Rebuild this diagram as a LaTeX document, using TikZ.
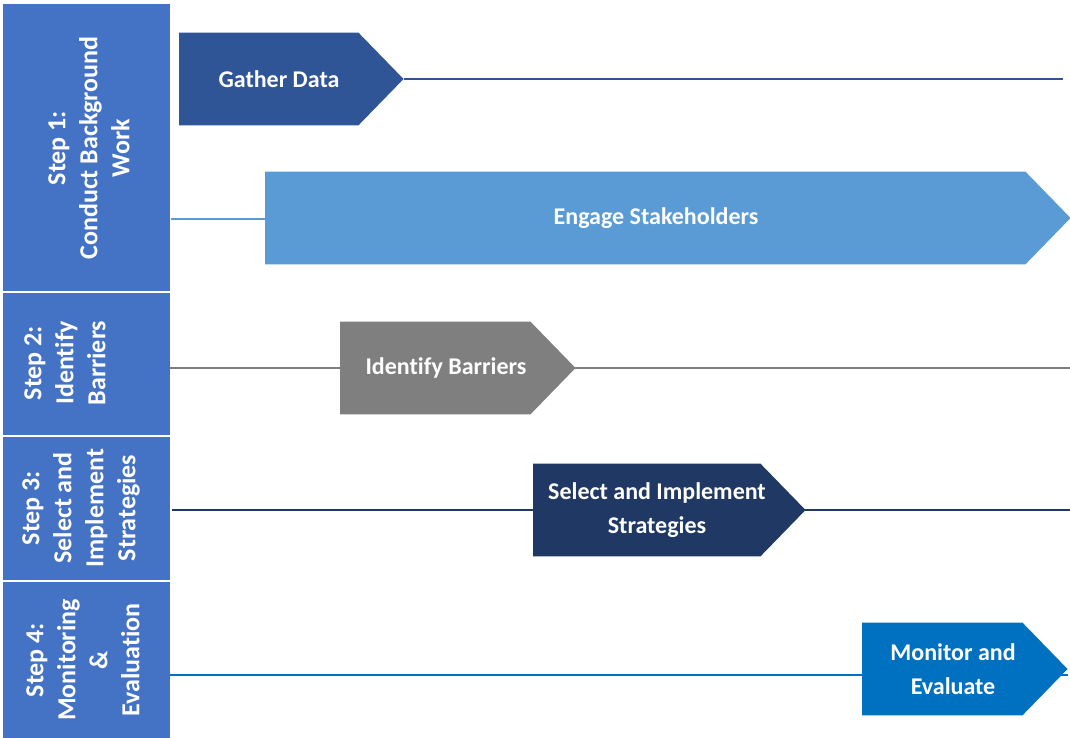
\documentclass[tikz,border=0pt]{standalone}
\usepackage{fontspec}
\setmainfont{Carlito}[Ligatures=CommonOff]
\usepackage{tikz}
\usetikzlibrary{calc,positioning,backgrounds}
\definecolor{panelblue}{HTML}{4472C4}
\definecolor{gatherblue}{HTML}{2F5597}
\definecolor{engageblue}{HTML}{5B9BD5}
\definecolor{barriergray}{HTML}{7F7F7F}
\definecolor{selectnavy}{HTML}{203864}
\definecolor{monitorblue}{HTML}{0070C0}

\begin{document}
\begin{tikzpicture}[x=0.75pt,y=-0.75pt,
		panel/.style={fill=panelblue,minimum width=167*0.75pt,inner sep=0pt,anchor=north west},
		paneltext/.style={rotate=90,text=white,font=\fontsize{19.5}{24}\selectfont\bfseries,align=center},
		bar/.style={inner sep=0pt,minimum height=92*0.75pt,anchor=west},
		bartext/.style={text=white,font=\fontsize{18}{25}\selectfont\bfseries,align=center},
		track/.style={line width=2pt}]
		\useasboundingbox (0,0) rectangle (1070,738);
		% step panels on the left
		\node(p1) [panel,minimum height=287*0.75pt] at (3,4) {};
		\node(p2) [panel,minimum height=142*0.75pt] at (3,293) {};
		\node(p3) [panel,minimum height=143*0.75pt] at (3,437) {};
		\node(p4) [panel,minimum height=156*0.75pt] at (3,582) {};
		\node(p1txt) [paneltext] at (89,148) {Step 1:\\Conduct Background\\Work};
		\node(p2txt) [paneltext] at (65,363) {Step 2:\\Identify\\Barriers};
		\node(p3txt) [paneltext] at (81,508) {Step 3:\\Select and\\Implement\\Strategies};
		\node(p4txt) [paneltext] at (83,660) {Step 4:\\Monitoring\\\&\\Evaluation};

		% activity bars (pentagons)
		\node(gather) [bar,minimum width=179*0.75pt] at (179,79) {};
		\node(engage) [bar,minimum width=760*0.75pt] at (265,218) {};
		\node(identify) [bar,minimum width=190*0.75pt] at (340,368) {};
		\node(select) [bar,minimum width=227*0.75pt] at (533,510) {};
		\node(monitor) [bar,minimum width=160*0.75pt] at (862,669) {};
		\foreach \n/\c in {gather/gatherblue,engage/engageblue,identify/barriergray,select/selectnavy,monitor/monitorblue}
			\fill[\c] (\n.north west) -- (\n.north east) -- ($(\n.east)+(45,0)$) -- (\n.south east) -- (\n.south west) -- cycle;
		\coordinate (gathertip) at ($(gather.east)+(45,0)$);

		\node(gathertxt) [bartext] at (279,79) {Gather Data};
		\node(engagetxt) [bartext] at (656,218) {Engage Stakeholders};
		\node(identifytxt) [bartext] at (446,368) {Identify Barriers};
		\node(selecttxt) [bartext] at (657,510) {Select and Implement\\Strategies};
		\node(monitortxt) [bartext] at (953,669) {Monitor and\\Evaluate};

		% time lines
		\coordinate (gatherend) at (1063,79);
		\coordinate (engagestart) at (171,219);
		\coordinate (identifystart) at (170,368);
		\coordinate (identifyend) at (1070,368);
		\coordinate (selectstart) at (172,510);
		\coordinate (selectend) at (1070,510);
		\coordinate (monitorstart) at (170,675);
		\coordinate (monitorend) at (1068,675);
		\begin{scope}[on background layer]
			\draw[track,gatherblue] (gathertip) -- (gatherend);
			\draw[track,engageblue] (engagestart) -- (engagestart -| engage.west);
			\draw[track,barriergray] (identifystart) -- (identifyend);
			\draw[track,selectnavy] (selectstart) -- (selectend);
			\draw[track,monitorblue] (monitorstart) -- (monitorend);
		\end{scope}
	\end{tikzpicture}
\end{document}
